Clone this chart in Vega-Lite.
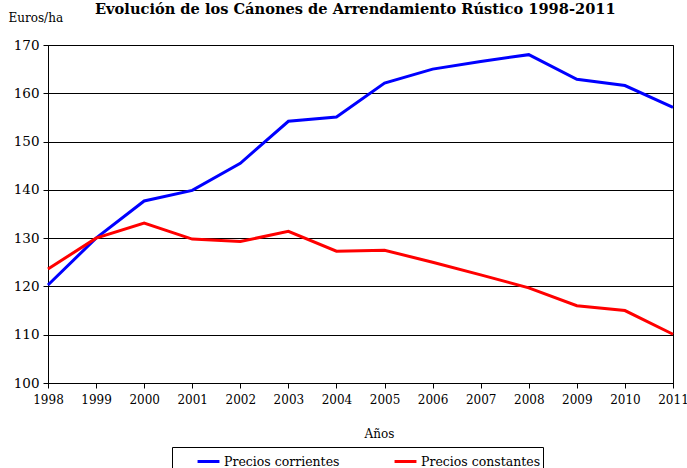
{
  "$schema": "https://vega.github.io/schema/vega-lite/v6.json",
  "autosize": "none",
  "width": 625,
  "height": 338,
  "padding": {"left": 48, "top": 45, "right": 14, "bottom": 85},
  "background": "white",
  "config": {
    "font": "DejaVu Serif",
    "view": {"stroke": "black", "strokeWidth": 1}
  },
  "title": {
    "text": "Evolución de los Cánones de Arrendamiento Rústico 1998-2011",
    "font": "DejaVu Serif",
    "fontSize": 14.6,
    "fontWeight": "bold",
    "color": "black",
    "anchor": "start",
    "frame": "group",
    "baseline": "bottom",
    "dx": 47,
    "dy": 21,
    "offset": 0
  },
  "data": {
    "values": [
      {"year": "1998", "serie": "Precios corrientes", "valor": 120.3},
      {"year": "1999", "serie": "Precios corrientes", "valor": 130.0},
      {"year": "2000", "serie": "Precios corrientes", "valor": 137.7},
      {"year": "2001", "serie": "Precios corrientes", "valor": 139.9},
      {"year": "2002", "serie": "Precios corrientes", "valor": 145.5},
      {"year": "2003", "serie": "Precios corrientes", "valor": 154.2},
      {"year": "2004", "serie": "Precios corrientes", "valor": 155.1},
      {"year": "2005", "serie": "Precios corrientes", "valor": 162.1},
      {"year": "2006", "serie": "Precios corrientes", "valor": 165.0},
      {"year": "2007", "serie": "Precios corrientes", "valor": 166.6},
      {"year": "2008", "serie": "Precios corrientes", "valor": 168.0},
      {"year": "2009", "serie": "Precios corrientes", "valor": 162.9},
      {"year": "2010", "serie": "Precios corrientes", "valor": 161.6},
      {"year": "2011", "serie": "Precios corrientes", "valor": 157.1},
      {"year": "1998", "serie": "Precios constantes", "valor": 123.6},
      {"year": "1999", "serie": "Precios constantes", "valor": 130.0},
      {"year": "2000", "serie": "Precios constantes", "valor": 133.1},
      {"year": "2001", "serie": "Precios constantes", "valor": 129.8},
      {"year": "2002", "serie": "Precios constantes", "valor": 129.3},
      {"year": "2003", "serie": "Precios constantes", "valor": 131.4},
      {"year": "2004", "serie": "Precios constantes", "valor": 127.3},
      {"year": "2005", "serie": "Precios constantes", "valor": 127.5},
      {"year": "2006", "serie": "Precios constantes", "valor": 125.0},
      {"year": "2007", "serie": "Precios constantes", "valor": 122.4},
      {"year": "2008", "serie": "Precios constantes", "valor": 119.7},
      {"year": "2009", "serie": "Precios constantes", "valor": 116.0},
      {"year": "2010", "serie": "Precios constantes", "valor": 115.0},
      {"year": "2011", "serie": "Precios constantes", "valor": 110.1}
    ]
  },
  "mark": {"type": "line", "strokeWidth": 3, "clip": false},
  "encoding": {
    "x": {
      "field": "year",
      "type": "ordinal",
      "scale": {"type": "point", "padding": 0},
      "axis": {
        "title": "Años",
        "titleFont": "DejaVu Serif",
        "titleFontSize": 12,
        "titleFontWeight": "normal",
        "titleColor": "black",
        "titleX": 331,
        "titleY": 50,
        "titleBaseline": "middle",
        "labelAngle": 0,
        "labelFontSize": 12,
        "labelColor": "black",
        "labelPadding": 6,
        "labelOverlap": false,
        "labelFlush": false,
        "domainColor": "black",
        "tickColor": "black",
        "tickSize": 5,
        "grid": false
      }
    },
    "y": {
      "field": "valor",
      "type": "quantitative",
      "scale": {"domain": [100, 170], "nice": false, "zero": false},
      "axis": {
        "values": [100, 110, 120, 130, 140, 150, 160, 170],
        "title": "Euros/ha",
        "titleAngle": 0,
        "titleAlign": "left",
        "titleBaseline": "middle",
        "titleX": -40,
        "titleY": -28,
        "titleFont": "DejaVu Serif",
        "titleFontSize": 12,
        "titleFontWeight": "normal",
        "titleColor": "black",
        "labelFontSize": 13.5,
        "labelColor": "black",
        "labelPadding": 4,
        "domainColor": "black",
        "tickColor": "black",
        "tickSize": 5,
        "grid": true,
        "gridColor": "black",
        "gridOpacity": 1
      }
    },
    "color": {
      "field": "serie",
      "type": "nominal",
      "scale": {"domain": ["Precios corrientes", "Precios constantes"], "range": ["#0000FF", "#FF0000"]},
      "legend": {
        "title": null,
        "orient": "none",
        "direction": "horizontal",
        "columns": 2,
        "legendX": 124,
        "legendY": 402,
        "symbolType": "stroke",
        "symbolStrokeWidth": 3,
        "symbolSize": 480,
        "symbolOffset": 22,
        "labelFont": "DejaVu Serif",
        "labelFontSize": 12.5,
        "labelColor": "black",
        "labelOffset": 3,
        "labelLimit": 300,
        "columnPadding": 31,
        "padding": 2,
        "strokeColor": "black",
        "fillColor": "white"
      }
    }
  }
}
